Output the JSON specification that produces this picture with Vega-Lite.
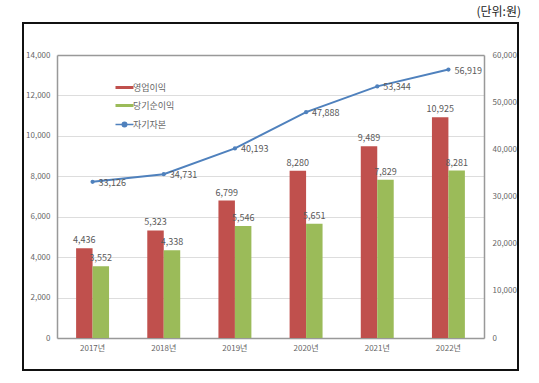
{
  "$schema": "https://vega.github.io/schema/vega-lite/v6.json",
  "width": 495,
  "height": 347,
  "autosize": {"type": "none"},
  "padding": {"left": 23, "top": 23, "right": 21, "bottom": 13},
  "background": "white",
  "title": {
    "text": "(단위:원)",
    "anchor": "end",
    "frame": "group",
    "dx": 3,
    "offset": 4,
    "fontSize": 12,
    "fontWeight": "normal",
    "font": "Noto Sans CJK KR",
    "color": "#222222"
  },
  "config": {
    "view": {"stroke": "#111111", "strokeWidth": 2},
    "font": "Noto Sans CJK KR",
    "axis": {
      "labelFont": "Noto Sans CJK KR",
      "labelFontSize": 8,
      "labelColor": "#666666",
      "domainColor": "#999999",
      "domainWidth": 1.5,
      "ticks": false,
      "title": null,
      "gridColor": "#dddddd",
      "gridWidth": 1
    },
    "legend": {"symbolSize": 324}
  },
  "datasets": {
    "bars": [
      {"연도": "2017년", "구분": "영업이익", "값": 4436},
      {"연도": "2017년", "구분": "당기순이익", "값": 3552},
      {"연도": "2018년", "구분": "영업이익", "값": 5323},
      {"연도": "2018년", "구분": "당기순이익", "값": 4338},
      {"연도": "2019년", "구분": "영업이익", "값": 6799},
      {"연도": "2019년", "구분": "당기순이익", "값": 5546},
      {"연도": "2020년", "구분": "영업이익", "값": 8280},
      {"연도": "2020년", "구분": "당기순이익", "값": 5651},
      {"연도": "2021년", "구분": "영업이익", "값": 9489},
      {"연도": "2021년", "구분": "당기순이익", "값": 7829},
      {"연도": "2022년", "구분": "영업이익", "값": 10925},
      {"연도": "2022년", "구분": "당기순이익", "값": 8281}
    ],
    "equity": [
      {"연도": "2017년", "구분": "자기자본", "값": 33126},
      {"연도": "2018년", "구분": "자기자본", "값": 34731},
      {"연도": "2019년", "구분": "자기자본", "값": 40193},
      {"연도": "2020년", "구분": "자기자본", "값": 47888},
      {"연도": "2021년", "구분": "자기자본", "값": 53344},
      {"연도": "2022년", "구분": "자기자본", "값": 56919}
    ]
  },
  "layer": [
    {
      "data": {"name": "bars"},
      "layer": [
        {
          "mark": {"type": "bar"},
          "encoding": {
            "x": {
              "field": "연도",
              "type": "nominal",
              "sort": null,
              "scale": {"type": "band", "range": [34, 461], "paddingInner": 0.537, "paddingOuter": 0.2685},
              "axis": {"orient": "bottom", "offset": -32, "labelAngle": 0, "labelPadding": 6, "domain": true, "grid": false}
            },
            "xOffset": {"field": "구분", "type": "nominal", "sort": ["영업이익", "당기순이익"], "scale": {"domain": ["영업이익", "당기순이익"]}},
            "y": {
              "field": "값",
              "type": "quantitative",
              "scale": {"domain": [0, 14000], "range": [315, 32], "nice": false},
              "axis": {
                "orient": "left",
                "offset": -34,
                "values": [0, 2000, 4000, 6000, 8000, 10000, 12000, 14000],
                "format": ",d",
                "labelPadding": 7,
                "grid": true,
                "gridColor": {"condition": {"test": "datum.value === 14000", "value": "#999999"}, "value": "#dddddd"},
                "gridWidth": {"condition": {"test": "datum.value === 14000", "value": 1.5}, "value": 1}
              }
            },
            "color": {
              "field": "구분",
              "type": "nominal",
              "scale": {"domain": ["영업이익", "당기순이익", "자기자본"], "range": ["#C0504D", "#9BBB59", "#4F81BD"]},
              "legend": {
                "orient": "none",
                "legendX": 97,
                "legendY": 60,
                "title": null,
                "padding": 0,
                "rowPadding": 8,
                "symbolSize": 324,
                "labelFontSize": 9,
                "labelColor": "#666666",
                "labelOffset": 4,
                "labelFont": "Noto Sans CJK KR",
                "encode": {
                  "symbols": {
                    "update": {
                      "shape": {"signal": "datum.value === '자기자본' ? 'M-1,0H1M-0.25,0A0.25,0.25 0 1,0 0.25,0A0.25,0.25 0 1,0 -0.25,0Z' : 'M-1,-0.17H1V0.17H-1Z'"},
                      "size": {"value": 324},
                      "fill": {"signal": "scale('color', datum.value)"},
                      "stroke": {"signal": "scale('color', datum.value)"},
                      "strokeWidth": {"signal": "datum.value === '자기자본' ? 1.5 : 0"},
                      "opacity": {"value": 1},
                      "fillOpacity": {"value": 1}
                    }
                  }
                }
              }
            }
          }
        },
        {
          "mark": {"type": "text", "baseline": "bottom", "dy": -3, "fontSize": 9, "color": "#595959", "font": "Noto Sans CJK KR"},
          "encoding": {
            "x": {"field": "연도", "type": "nominal", "sort": null, "scale": {"type": "band", "range": [34, 461], "paddingInner": 0.537, "paddingOuter": 0.2685}},
            "xOffset": {"field": "구분", "type": "nominal", "sort": ["영업이익", "당기순이익"], "scale": {"domain": ["영업이익", "당기순이익"]}},
            "y": {"field": "값", "type": "quantitative", "scale": {"domain": [0, 14000], "range": [315, 32], "nice": false}},
            "text": {"field": "값", "type": "quantitative", "format": ",d"}
          }
        }
      ]
    },
    {
      "data": {"name": "equity"},
      "layer": [
        {
          "mark": {"type": "line", "strokeWidth": 2, "point": {"filled": true, "size": 18}},
          "encoding": {
            "x": {"field": "연도", "type": "nominal", "sort": null, "scale": {"type": "band", "range": [34, 461], "paddingInner": 0.537, "paddingOuter": 0.2685}},
            "y": {
              "field": "값",
              "type": "quantitative",
              "scale": {"domain": [0, 60000], "range": [315, 32], "nice": false},
              "axis": {
                "orient": "right",
                "offset": -34,
                "values": [0, 10000, 20000, 30000, 40000, 50000, 60000],
                "format": ",d",
                "labelPadding": 8,
                "grid": false
              }
            },
            "color": {"datum": "자기자본", "type": "nominal"}
          }
        },
        {
          "mark": {"type": "text", "align": "left", "baseline": "middle", "dx": 6, "dy": 1, "fontSize": 9, "color": "#595959", "font": "Noto Sans CJK KR"},
          "encoding": {
            "x": {"field": "연도", "type": "nominal", "sort": null, "scale": {"type": "band", "range": [34, 461], "paddingInner": 0.537, "paddingOuter": 0.2685}},
            "y": {"field": "값", "type": "quantitative", "scale": {"domain": [0, 60000], "range": [315, 32], "nice": false}},
            "text": {"field": "값", "type": "quantitative", "format": ",d"}
          }
        }
      ]
    }
  ],
  "resolve": {"scale": {"y": "independent"}}
}
